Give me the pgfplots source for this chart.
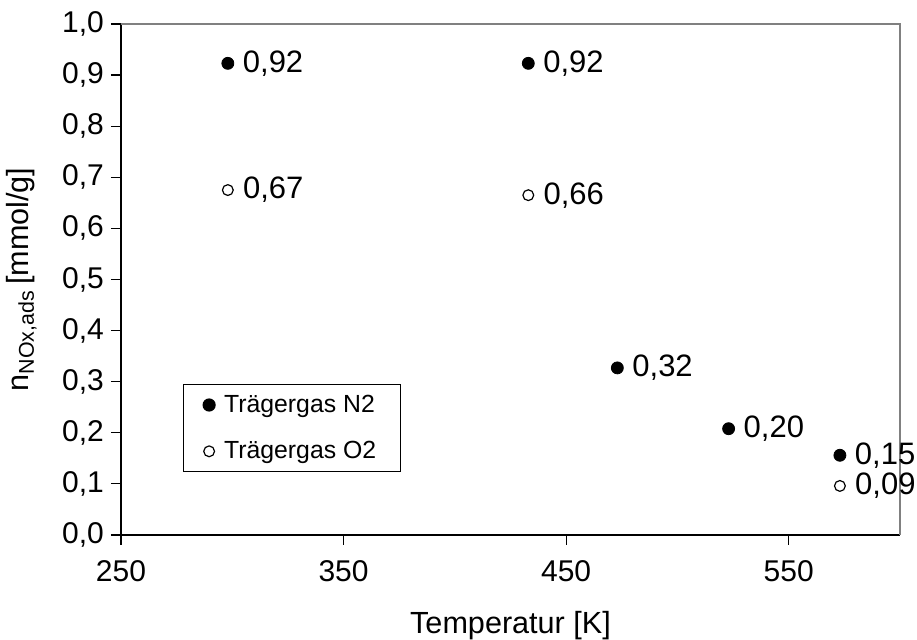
\documentclass[border=0pt]{standalone}
\usepackage{fontspec}
\setmainfont{Liberation Sans}
\usepackage{pgfplots}
\pgfplotsset{compat=1.18}

\begin{document}
\begin{tikzpicture}
% page = plot area plus margins; labels running past the right edge are cut as in the original
\useasboundingbox (-60.5pt,-52.5pt) rectangle (398pt,267.5pt);
\clip (-60.5pt,-52.5pt) rectangle (398pt,267.5pt);
\begin{axis}[
    scale only axis,
    width=389.5pt, height=255.5pt,
    xmin=250, xmax=600,
    ymin=0, ymax=1,
    xtick={250,350,450,550},
    ytick={0,0.1,0.2,0.3,0.4,0.5,0.6,0.7,0.8,0.9,1.0},
    axis x line*=bottom,
    axis y line*=left,
    axis line style={black, line width=0.9pt, -},
    tick align=outside,
    major tick length=5pt,
    tick style={black, line width=0.6pt},
    ticklabel style={font=\fontsize{15}{17}\selectfont},
    y tick label style={/pgf/number format/.cd, fixed, fixed zerofill, precision=1, use comma, assume math mode=true},
    x tick label style={/pgf/number format/assume math mode=true, yshift=-4pt},
    xlabel={Temperatur [K]},
    ylabel={n\textsubscript{NOx,ads}\,[mmol/g]},
    label style={font=\fontsize{15.3}{17}\selectfont},
    xlabel style={yshift=-8pt},
    ylabel style={yshift=6pt},
    clip=false,
    legend image code/.code={\path[draw=none, fill=none] (-3pt,-3pt) rectangle (3pt,3pt); \draw[#1] plot coordinates {(0pt,0pt)};},
    legend style={at={(0.079,0.295)}, anchor=north west, draw=black, line width=0.6pt,
        font=\fontsize{12.4}{14}\selectfont, cells={anchor=west},
        inner xsep=10pt, inner ysep=3pt, nodes={inner sep=2pt}, row sep=9pt,
        /tikz/every odd column/.append style={column sep=2.5pt}},
    nodes near coords,
    point meta=explicit symbolic,
    nodes near coords style={anchor=west, font=\fontsize{15.5}{17}\selectfont, xshift=4pt, black},
]
% frame on top and right in gray
\draw[gray, line width=0.9pt] (rel axis cs:0,1) -- (rel axis cs:1,1) -- (rel axis cs:1,0);

% carrier gas N2
\addplot[only marks, mark=*, mark size=3pt, black] table[x=x, y=y, meta=lab] {
x y lab
298 0.923 0,92
433 0.923 0,92
473 0.327 0,32
523 0.208 0,20
573 0.156 0,15
};
\addlegendentry{Trägergas N2}

% carrier gas O2
\addplot[only marks, mark=o, mark size=2.7pt, black, line width=0.6pt, mark options={fill=white}] table[x=x, y=y, meta=lab] {
x y lab
298 0.675 0,67
433 0.665 0,66
573 0.096 0,09
};
\addlegendentry{Trägergas O2}
\end{axis}
\end{tikzpicture}
\end{document}
